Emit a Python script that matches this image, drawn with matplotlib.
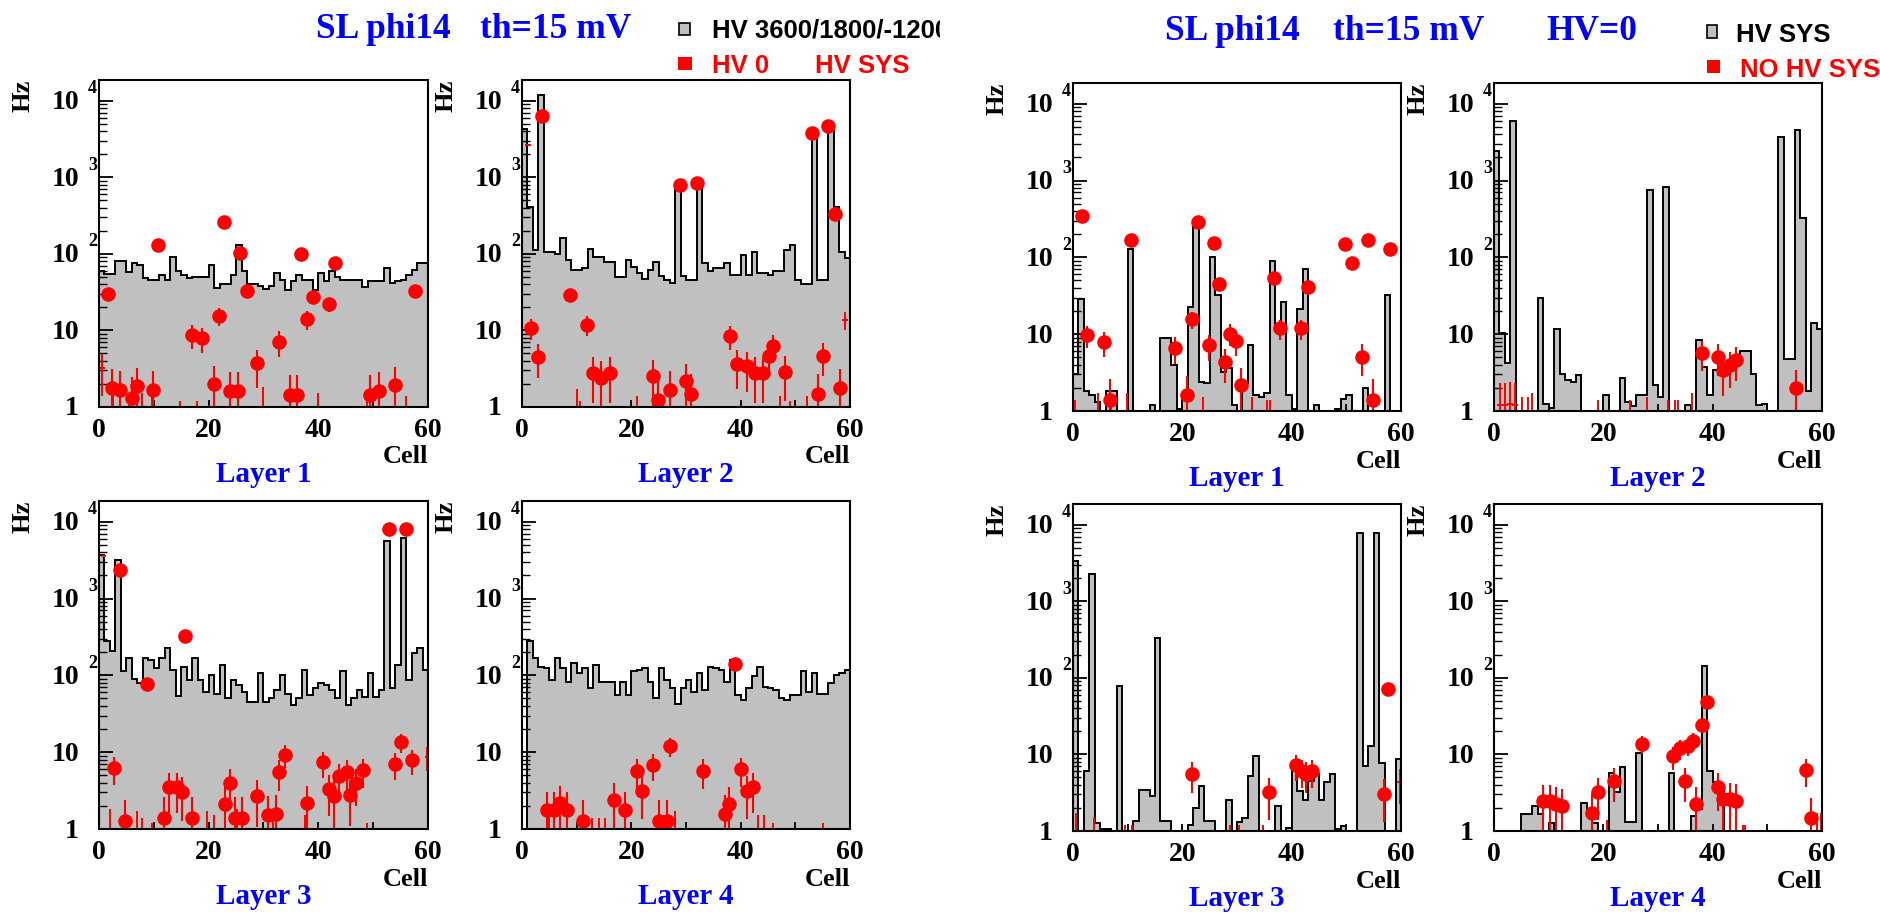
import numpy as np
import matplotlib
matplotlib.use("Agg")
import matplotlib.pyplot as plt
from matplotlib.ticker import LogLocator, NullFormatter
from matplotlib.patches import Rectangle
from matplotlib.transforms import Bbox, TransformedBbox

# ---------------- data ----------------
cell_edges = list(range(61))
cell_ticks = [0, 10, 20, 30, 40, 50, 60]
cell_tick_labels = ["0", "", "20", "", "40", "", "60"]
y_tick_values = [1, 10, 100, 1000, 10000]
y_tick_bases = ["1", "10", "10", "10", "10"]
y_tick_exps = ["", "", "2", "3", "4"]

# ---- left canvas: HV 3600/1800/-1200 (grey histogram), HV 0 with HV SYS (red points)
hvon_l1 = [60, 55, 55, 80, 80, 58, 76, 72, 48, 46, 46, 53, 46, 92, 59, 53, 48, 50, 50, 50,
           72, 36, 40, 40, 53, 130, 59, 40, 40, 38, 35, 38, 56, 45, 34, 44, 53, 46, 46, 34,
           56, 44, 59, 50, 46, 46, 46, 46, 37, 44, 44, 44, 65, 41, 44, 46, 53, 62, 76, 76]
hv0sys_l1_x = [1.7, 10.8, 22.8, 25.7, 27.0, 36.8, 43.0, 39.0, 37.9, 41.9, 21.8, 16.9, 18.7, 32.9,
               28.8, 20.9, 57.7, 2.3, 3.8, 6.0, 6.9, 9.9, 23.9, 25.3, 34.9, 36.1, 49.5, 51.0, 54.0]
hv0sys_l1_y = [30, 130, 257, 104, 33, 99, 76, 27, 14, 22, 15.5, 8.7, 7.9, 7.1,
               3.7, 2.0, 33, 1.77, 1.68, 1.3, 1.86, 1.65, 1.6, 1.6, 1.45, 1.45, 1.45, 1.6, 1.95]
hv0sys_l1_low_x = [2.6, 5.4, 7.8, 9.6, 14.8, 17.8, 30.0, 40.0, 48.9, 55.9]
hv0sys_l1_low_y = [0.8, 0.6, 0.7, 0.8, 0.5, 0.5, 0.9, 0.7, 0.6, 0.6]
hv0sys_l1_plus_x = [0.6]
hv0sys_l1_plus_y = [3.2]

hvon_l2 = [4250, 415, 112, 11800, 107, 107, 100, 160, 83, 61, 61, 65, 115, 92, 90, 79, 79, 50, 50, 83,
           68, 56, 47, 62, 79, 51, 46, 42, 830, 51, 46, 46, 870, 76, 59, 65, 65, 76, 53, 53,
           97, 53, 107, 56, 56, 53, 60, 60, 112, 130, 46, 40, 40, 4150, 46, 46, 5000, 415, 107, 88]
hv0sys_l2_x = [3.7, 28.9, 32.1, 53.1, 56.0, 57.3, 8.7, 11.8, 1.7, 2.9, 38.0, 46.0, 45.1, 48.1, 55.1,
               58.2, 54.1, 24.0, 24.9, 27.0, 30.0, 31.0, 13.0, 14.5, 16.1, 39.3, 41.1, 42.6, 44.1]
hv0sys_l2_y = [6300, 795, 830, 3830, 4700, 330, 29, 11.9, 10.7, 4.5, 8.4, 6.2, 4.6, 2.9, 4.7,
               1.77, 1.48, 2.56, 1.25, 1.65, 2.16, 1.48, 2.8, 2.4, 2.8, 3.6, 3.4, 2.8, 2.8]
hv0sys_l2_low_x = [10.0, 10.6, 21.0, 47.2, 49.0, 52.1]
hv0sys_l2_low_y = [0.8, 0.5, 0.6, 0.6, 0.5, 0.6]
hv0sys_l2_plus_x = [1.1, 59.1]
hv0sys_l2_plus_y = [2600, 13.8]

hvon_l3 = [3700, 280, 210, 3200, 113, 166, 90, 79, 168, 160, 125, 168, 228, 116, 54, 130, 88, 166, 88, 61,
           100, 58, 135, 50, 88, 75, 61, 45, 45, 107, 45, 50, 64, 100, 58, 41, 50, 118, 56, 68,
           79, 75, 64, 50, 113, 41, 50, 64, 53, 107, 53, 64, 5650, 68, 138, 6100, 88, 195, 228, 118]
hv0sys_l3_x = [3.8, 15.7, 8.7, 52.8, 55.9, 2.8, 4.7, 11.9, 12.7, 14.2, 15.1, 16.9, 22.9, 23.8, 24.8,
               26.0, 28.8, 30.9, 32.3, 32.9, 34.0, 37.9, 40.8, 41.9, 42.8, 43.7, 45.2, 45.8, 46.9, 48.1,
               53.9, 55.0, 57.0]
hv0sys_l3_y = [2340, 325, 78, 8000, 8000, 6.2, 1.26, 1.4, 3.5, 3.5, 3.0, 1.4, 2.1, 4.0, 1.4,
               1.4, 2.7, 1.5, 1.55, 5.5, 9.3, 2.2, 7.4, 3.3, 2.7, 4.9, 5.5, 2.75, 4.0, 5.8,
               7.0, 13.5, 7.8]
hv0sys_l3_low_x = [2.0, 6.9, 7.8, 9.6, 19.7, 20.9, 25.1, 31.8, 37.6, 42.8, 48.9]
hv0sys_l3_low_y = [0.9, 0.8, 0.6, 0.5, 0.8, 0.7, 0.9, 0.8, 0.7, 0.6, 0.5]
hv0sys_l3_plus_x = [0.8, 59.9]
hv0sys_l3_plus_y = [3600, 8.6]

hvon_l4 = [0, 280, 168, 130, 125, 88, 166, 125, 83, 145, 107, 125, 68, 138, 83, 83, 83, 56, 83, 56,
           113, 118, 125, 83, 50, 125, 88, 68, 43, 68, 88, 61, 107, 64, 130, 125, 118, 83, 160, 56,
           48, 68, 97, 130, 71, 68, 64, 50, 48, 56, 56, 113, 61, 107, 58, 58, 79, 101, 107, 118]
hv0sys_l4_x = [39.0, 27.1, 23.9, 21.0, 21.9, 16.9, 18.9, 33.1, 40.0, 41.1, 42.3, 37.8, 37.1,
               4.6, 5.8, 7.0, 8.2, 11.1, 25.0, 26.5]
hv0sys_l4_y = [141, 12, 6.8, 5.7, 3.1, 2.4, 1.75, 5.7, 6.0, 3.1, 3.5, 2.1, 1.55,
               1.75, 1.75, 2.2, 1.75, 1.26, 1.26, 1.26]
hv0sys_l4_low_x = [4.9, 12.8, 14.0, 15.2, 28.0, 43.2, 44.2, 46.0, 55.1]
hv0sys_l4_low_y = [0.8, 0.6, 0.6, 0.6, 0.8, 0.7, 0.7, 0.5, 0.5]
hv0sys_l4_plus_x = []
hv0sys_l4_plus_y = []

# ---- right canvas: HV=0, HV SYS (grey histogram), NO HV SYS (red points)
hvsys_l1 = [3, 29, 1.8, 1.6, 1.3, 0, 1.8, 1.8, 0, 0, 130, 0, 0, 0, 1.2, 0, 9, 9, 4, 1.05,
            1.4, 22.6, 300, 2.4, 2.3, 100, 32, 3.2, 3.6, 1.2, 0, 2.3, 7.2, 1.6, 1.5, 1.7, 91, 11, 26, 1.6,
            1.05, 21, 71, 0, 1.2, 0, 0, 0, 1.05, 1.45, 1.6, 0, 0, 2.0, 0, 0, 0, 32, 0, 0]
nohv_l1_x = [1.6, 10.7, 22.8, 25.8, 26.7, 36.8, 42.9, 49.8, 51.0, 53.9, 58.0, 2.6, 5.7, 6.7,
             18.7, 21.8, 20.8, 24.8, 28.7, 29.8, 27.8, 30.8, 37.8, 41.7, 52.9, 54.8]
nohv_l1_y = [345, 170, 288, 153, 45, 54, 41, 150, 85, 170, 127, 9.7, 7.9, 1.4,
             6.6, 15.6, 1.6, 7.2, 10.2, 8.1, 4.4, 2.2, 11.9, 11.9, 5.1, 1.4]
nohv_l1_low_x = [0.3, 4.6, 7.0, 9.8, 23.8, 32.7, 35.4, 36.0]
nohv_l1_low_y = [0.6, 0.8, 0.7, 0.8, 0.7, 0.7, 0.6, 0.6]
nohv_l1_plus_x = []
nohv_l1_plus_y = []

hvsys_l2 = [2400, 10.5, 4.2, 5900, 0, 0, 0, 0, 30, 1.25, 1.1, 11.6, 3.0, 2.5, 2.4, 2.9, 0, 0, 0, 0,
            1.6, 0, 0, 2.65, 1.3, 1.15, 1.6, 1.6, 760, 2.2, 1.5, 820, 0, 0, 0, 1.2, 0, 8.4, 3.7, 1.6,
            3.4, 3.4, 3.6, 4.0, 4.4, 6.1, 6.1, 3.0, 1.2, 1.25, 0, 0, 3700, 4.7, 4.7, 4550, 325, 1.8, 13.8, 11.8]
nohv_l2_x = [38.1, 41.0, 41.9, 43.1, 44.2, 55.2]
nohv_l2_y = [5.7, 5.1, 3.4, 3.96, 4.6, 2.0]
nohv_l2_low_x = [5.1, 6.3, 7.0, 19.1, 24.8, 28.0, 31.9, 33.1, 33.7, 36.3]
nohv_l2_low_y = [0.7, 0.7, 0.8, 0.6, 0.6, 0.7, 0.6, 0.6, 0.6, 0.8]
nohv_l2_plus_x = [1.1, 2.0, 2.9, 3.8]
nohv_l2_plus_y = [1.2, 1.2, 1.25, 1.2]

hvsys_l3 = [3400, 0, 6, 2300, 1.26, 1.05, 1.05, 0, 79, 0, 0, 1.35, 3.4, 3.4, 2.85, 330, 1.35, 1.35, 0, 0,
            0, 1.2, 2.0, 3.85, 1.35, 1.35, 0, 0, 2.55, 0, 1.33, 1.5, 5.2, 9.4, 0, 0, 0, 2.1, 0, 1.1,
            7.5, 3.3, 2.55, 4.5, 5.6, 2.55, 4.3, 5.6, 1.05, 1.15, 0, 0, 7900, 7.1, 13, 7900, 7.8, 0, 0, 8.8]
nohv_l3_x = [21.8, 35.8, 40.8, 41.8, 42.7, 43.8, 57.7, 56.8]
nohv_l3_y = [5.5, 3.2, 7.2, 6.1, 5.5, 6.1, 71, 3.05]
nohv_l3_low_x = [0.6, 3.8, 9.6, 10.8, 28.7, 30.3, 34.8]
nohv_l3_low_y = [0.8, 0.7, 0.5, 0.5, 0.5, 0.5, 0.5]
nohv_l3_plus_x = [59.8]
nohv_l3_plus_y = [4.3]

hvsys_l4 = [0, 0, 0, 0, 0, 1.66, 1.66, 2.14, 1.66, 0, 1.26, 0, 0, 0, 0, 0, 2.3, 1.6, 1.26, 0,
            0, 5.7, 3.2, 6.9, 1.3, 1.3, 10.4, 0, 0, 0, 0, 0, 5.7, 0, 0, 0, 1.55, 1.93, 141, 6.1,
            4.3, 3.3, 0, 0, 0, 0, 0, 0, 0, 0, 0, 0, 0, 0, 0, 0, 0, 0, 0, 0]
nohv_l4_x = [39.0, 38.1, 36.4, 35.5, 34.0, 32.8, 34.9, 37.0, 27.0, 21.9, 19.1, 18.0, 9.0, 10.2,
             11.4, 12.5, 41.0, 41.9, 43.1, 44.3, 57.0, 58.0]
nohv_l4_y = [49, 24, 15, 13, 12, 9.4, 4.5, 2.25, 13.7, 4.5, 3.2, 1.7, 2.44, 2.44,
             2.25, 2.1, 3.8, 2.6, 2.6, 2.5, 6.2, 1.5]
nohv_l4_low_x = [59.0, 59.9, 45.5, 46.0, 20.6]
nohv_l4_low_y = [0.8, 0.8, 0.5, 0.5, 0.6]
nohv_l4_plus_x = []
nohv_l4_plus_y = []

layer_names = ["Layer 1", "Layer 2", "Layer 3", "Layer 4"]

# ---------------- style ----------------
W, H = 1881, 914
PT = 0.72  # points per pixel at dpi 100
BLUE = "#0000ff"
RED = "#ff0000"
GRAY = "#c0c0c0"
SERIF = ["Liberation Serif", "DejaVu Serif"]
SANS = ["Liberation Sans", "DejaVu Sans"]
plt.rcParams["font.family"] = SERIF
plt.rcParams["font.weight"] = "bold"

fig = plt.figure(figsize=(W / 100, H / 100), dpi=100)
fig.patch.set_facecolor("white")


def rect(l, t, r, b):
    return [l / W, 1 - b / H, (r - l) / W, (b - t) / H]


YMIN, YMAX = 1, 10 ** 4.27


def draw_panel(r, hist, px, py, lx, ly, qx, qy, layer):
    ax = fig.add_axes(rect(*r))
    ax.set_yscale("log")
    ax.set_xlim(0, 60)
    ax.set_ylim(YMIN, YMAX)
    h = np.asarray(hist, float)
    hp = np.where(h > 0, h, 1e-3)
    ax.stairs(hp, cell_edges, baseline=1e-3, fill=True, color=GRAY, lw=0, zorder=1)
    ax.stairs(hp, cell_edges, baseline=1e-3, color="black", lw=1.4, zorder=2)

    def errs(y):
        y = np.asarray(y, float)
        e = np.sqrt(y)
        return y, [np.minimum(e, y * 0.99), e]

    if len(lx):
        yv, ye = errs(ly)
        ax.errorbar(lx, yv, yerr=ye, xerr=0.5, fmt="none", ecolor=RED, elinewidth=1.4, capsize=0, zorder=4)
    if len(qx):
        yv, ye = errs(qy)
        ax.errorbar(qx, yv, yerr=ye, xerr=0.5, fmt="none", ecolor=RED, elinewidth=1.4, capsize=0, zorder=4)
    yv, ye = errs(py)
    ax.errorbar(px, yv, yerr=ye, xerr=0.5, fmt="o", color=RED, ms=10.5, mew=0,
                ecolor=RED, elinewidth=1.5, capsize=0, zorder=5)

    for s in ax.spines.values():
        s.set_linewidth(1.5)
        s.set_zorder(6)
    ax.set_yticks(y_tick_values)
    ax.yaxis.set_minor_locator(LogLocator(base=10, subs=np.arange(2, 10)))
    ax.yaxis.set_minor_formatter(NullFormatter())
    ax.tick_params(axis="y", which="major", direction="in", length=10, width=1.3,
                   labelleft=False, right=False)
    ax.tick_params(axis="y", which="minor", direction="in", length=5.5, width=1.0, right=False)
    ax.set_xticks(cell_ticks)
    ax.set_xticklabels(cell_tick_labels)
    ax.tick_params(axis="x", direction="in", length=5, width=1.3, top=False, pad=8, labelsize=20)
    for lab in ax.get_xticklabels():
        lab.set_fontweight("bold")

    ytr = ax.get_yaxis_transform()
    for v, b, e in zip(y_tick_values, y_tick_bases, y_tick_exps):
        ax.annotate(b, xy=(0, v), xycoords=ytr, xytext=(-20 * PT, -2 * PT), textcoords="offset points",
                    ha="right", va="center", fontsize=20, fontweight="bold", annotation_clip=False)
        if e:
            ax.annotate(e, xy=(0, v), xycoords=ytr, xytext=(-11 * PT, 12 * PT), textcoords="offset points",
                        ha="left", va="center", fontsize=13, fontweight="bold", annotation_clip=False)
    ax.annotate("Hz", xy=(0, 1), xycoords="axes fraction", xytext=(-76 * PT, 0), textcoords="offset points",
                rotation=90, ha="center", va="top", fontsize=19, fontweight="bold")
    ax.annotate("Cell", xy=(1, 0), xycoords="axes fraction", xytext=(0, -50 * PT), textcoords="offset points",
                ha="right", va="center", fontsize=19, fontweight="bold")
    ax.annotate(layer, xy=(0.5, 0), xycoords="axes fraction", xytext=(0, -68 * PT), textcoords="offset points",
                ha="center", va="center", fontsize=21, fontweight="bold", color=BLUE)
    return ax


panels = [
    ((99, 80, 428, 407), hvon_l1, hv0sys_l1_x, hv0sys_l1_y, hv0sys_l1_low_x, hv0sys_l1_low_y,
     hv0sys_l1_plus_x, hv0sys_l1_plus_y, layer_names[0]),
    ((522, 80, 850, 407), hvon_l2, hv0sys_l2_x, hv0sys_l2_y, hv0sys_l2_low_x, hv0sys_l2_low_y,
     hv0sys_l2_plus_x, hv0sys_l2_plus_y, layer_names[1]),
    ((99, 501, 428, 829), hvon_l3, hv0sys_l3_x, hv0sys_l3_y, hv0sys_l3_low_x, hv0sys_l3_low_y,
     hv0sys_l3_plus_x, hv0sys_l3_plus_y, layer_names[2]),
    ((522, 501, 850, 829), hvon_l4, hv0sys_l4_x, hv0sys_l4_y, hv0sys_l4_low_x, hv0sys_l4_low_y,
     hv0sys_l4_plus_x, hv0sys_l4_plus_y, layer_names[3]),
    ((1073, 83, 1401, 411), hvsys_l1, nohv_l1_x, nohv_l1_y, nohv_l1_low_x, nohv_l1_low_y,
     nohv_l1_plus_x, nohv_l1_plus_y, layer_names[0]),
    ((1494, 83, 1822, 411), hvsys_l2, nohv_l2_x, nohv_l2_y, nohv_l2_low_x, nohv_l2_low_y,
     nohv_l2_plus_x, nohv_l2_plus_y, layer_names[1]),
    ((1073, 504, 1401, 831), hvsys_l3, nohv_l3_x, nohv_l3_y, nohv_l3_low_x, nohv_l3_low_y,
     nohv_l3_plus_x, nohv_l3_plus_y, layer_names[2]),
    ((1494, 504, 1822, 831), hvsys_l4, nohv_l4_x, nohv_l4_y, nohv_l4_low_x, nohv_l4_low_y,
     nohv_l4_plus_x, nohv_l4_plus_y, layer_names[3]),
]
for p in panels:
    draw_panel(*p)

# ---------------- titles and legends (pixel overlay) ----------------
ov = fig.add_axes([0, 0, 1, 1])
ov.set_xlim(0, W)
ov.set_ylim(H, 0)
ov.axis("off")
ov.set_zorder(10)

left_clip = TransformedBbox(Bbox.from_extents(0, 0, 940 / W, 1), fig.transFigure)

TS = 25.5
ov.text(316, 38, "SL phi14", ha="left", va="baseline", color=BLUE, fontsize=TS, fontweight="bold")
ov.text(480, 38, "th=15 mV", ha="left", va="baseline", color=BLUE, fontsize=TS, fontweight="bold")
ov.text(1165, 40, "SL phi14", ha="left", va="baseline", color=BLUE, fontsize=TS, fontweight="bold")
ov.text(1333, 40, "th=15 mV", ha="left", va="baseline", color=BLUE, fontsize=TS, fontweight="bold")
ov.text(1546, 40, "HV=0", ha="left", va="baseline", color=BLUE, fontsize=TS, fontweight="bold")

LS = 18.5
ov.add_patch(Rectangle((679, 23), 11, 12, facecolor=GRAY, edgecolor="black", lw=1.2))
t = ov.text(712, 37, "HV 3600/1800/-1200", ha="left", va="baseline", color="black",
            fontsize=LS, fontweight="bold", family=SANS)
t.set_clip_box(left_clip)
t.set_clip_on(True)
ov.add_patch(Rectangle((678, 57), 14, 13, facecolor=RED, edgecolor=RED, lw=0))
ov.text(712, 73, "HV 0", ha="left", va="baseline", color=RED, fontsize=LS, fontweight="bold", family=SANS)
ov.text(815, 73, "HV SYS", ha="left", va="baseline", color=RED, fontsize=LS, fontweight="bold", family=SANS)

ov.add_patch(Rectangle((1707, 25), 10, 13, facecolor=GRAY, edgecolor="black", lw=1.2))
ov.text(1736, 42, "HV SYS", ha="left", va="baseline", color="black", fontsize=LS, fontweight="bold", family=SANS)
ov.add_patch(Rectangle((1707, 60), 13, 13, facecolor=RED, edgecolor=RED, lw=0))
ov.text(1740, 77, "NO HV SYS", ha="left", va="baseline", color=RED, fontsize=LS, fontweight="bold", family=SANS)

fig.savefig("out.png", dpi=100, facecolor="white")
